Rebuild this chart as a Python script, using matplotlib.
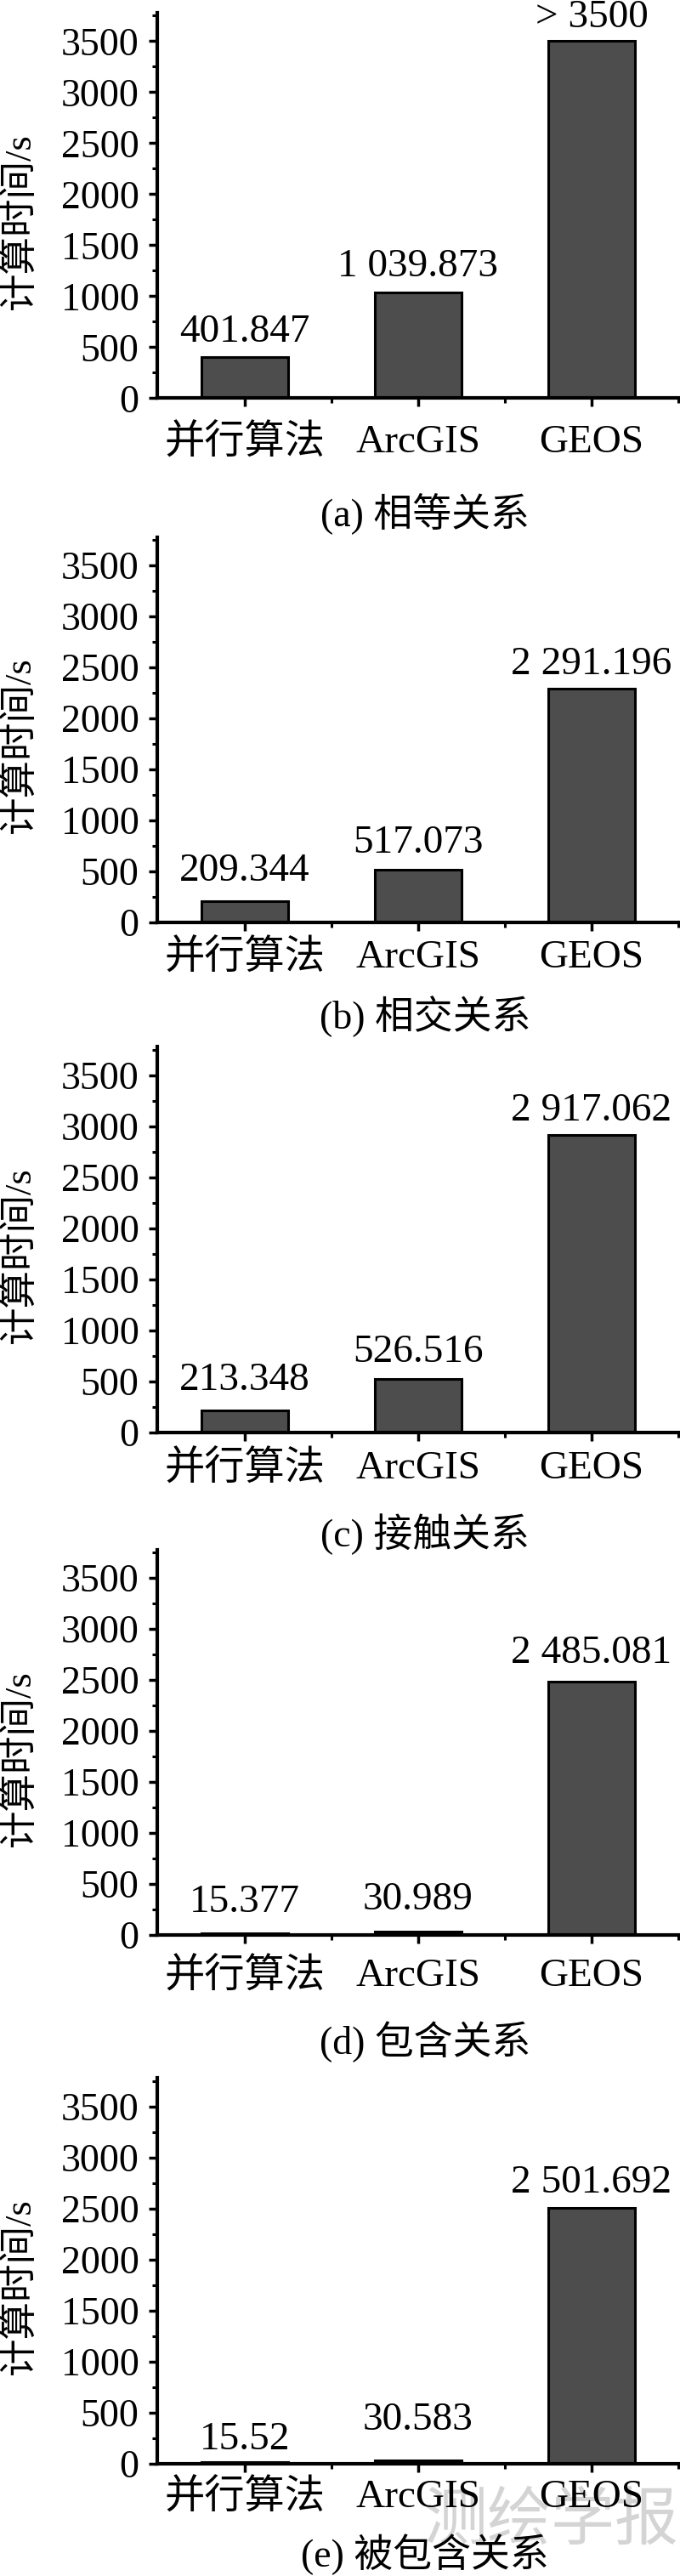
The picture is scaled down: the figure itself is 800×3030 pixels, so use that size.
import matplotlib
matplotlib.use("Agg")
import matplotlib.pyplot as plt
from matplotlib.ticker import MultipleLocator, FixedLocator

plt.rcParams['font.family'] = ['Liberation Serif', 'Noto Sans CJK SC', 'DejaVu Sans']

# ---------------- data ----------------
categories = ["并行算法", "ArcGIS", "GEOS"]
captions = ["(a) 相等关系", "(b) 相交关系", "(c) 接触关系", "(d) 包含关系", "(e) 被包含关系"]
vals_a = [401.847, 1039.873, 3500]
vals_b = [209.344, 517.073, 2291.196]
vals_c = [213.348, 526.516, 2917.062]
vals_d = [15.377, 30.989, 2485.081]
vals_e = [15.52, 30.583, 2501.692]
labels_a = ["401.847", "1 039.873", "> 3500"]
labels_b = ["209.344", "517.073", "2 291.196"]
labels_c = ["213.348", "526.516", "2 917.062"]
labels_d = ["15.377", "30.989", "2 485.081"]
labels_e = ["15.52", "30.583", "2 501.692"]
y_ticks = [0, 500, 1000, 1500, 2000, 2500, 3000, 3500]
y_label = "计算时间/s"
watermark = "测绘学报"

all_vals = [vals_a, vals_b, vals_c, vals_d, vals_e]
all_labels = [labels_a, labels_b, labels_c, labels_d, labels_e]

# ---------------- layout (pixels) ----------------
W, H = 800, 3030
fig = plt.figure(figsize=(W / 100, H / 100), dpi=100)
zero_px = [468.3, 1085.0, 1684.8, 2276.2, 2897.5]
caption_px = [604, 1196, 1805, 2402, 3005]
xlab_pad = [15, 7, 8, 12, 6]
label_gap_px = [[18, 19, 16], [24, 20, 17], [24, 20, 17], [25, 26, 22], [15, 36, 18]]
YMAX = 3778
px_per_unit = 0.12
ax_h_px = YMAX * px_per_unit
left_px = 185

for k in range(5):
    z = zero_px[k]
    ax = fig.add_axes([left_px / W, (H - z) / H, (W - left_px) / W, ax_h_px / H])
    x = list(range(len(categories)))
    ax.bar(x, all_vals[k], width=0.5, color='#4d4d4d', edgecolor='black',
           linewidth=2.2, zorder=2)
    for i, (v, t) in enumerate(zip(all_vals[k], all_labels[k])):
        ax.annotate(t, xy=(i, v), xytext=(0, label_gap_px[k][i] * 0.72),
                    textcoords='offset points', ha='center', va='baseline',
                    fontsize=34)
    ax.set_xlim(-0.505, 2.51)
    ax.set_ylim(0, YMAX)
    ax.set_yticks(y_ticks)
    ax.yaxis.set_minor_locator(MultipleLocator(250))
    ax.set_xticks(x)
    ax.set_xticklabels(categories)
    ax.xaxis.set_minor_locator(FixedLocator([0.5, 1.5, 2.5]))
    for s in ['top', 'right']:
        ax.spines[s].set_visible(False)
    for s in ['left', 'bottom']:
        ax.spines[s].set_linewidth(3)
    ax.tick_params(axis='both', which='major', direction='out', length=7.5,
                   width=2.5, labelsize=33, colors='black')
    ax.tick_params(axis='both', which='minor', direction='out', length=4,
                   width=2.2)
    ax.tick_params(axis='x', which='major', pad=xlab_pad[k], labelsize=34)
    ax.tick_params(axis='y', which='major', pad=8)
    ax.set_ylabel(y_label, fontsize=32)
    ax.yaxis.label.set_va('center')
    ax.yaxis.set_label_coords((23 - left_px) / (W - left_px), 0.46)
    fig.text(500 / W, (H - caption_px[k]) / H, captions[k], ha='center',
             va='center', fontsize=33)

fig.text(648 / W, (H - 2965) / H, watermark, ha='center', va='center',
         fontsize=54, color='#d4d4d4', family=['Noto Sans CJK SC'],
         zorder=-1)

fig.savefig("out.png", dpi=100)
